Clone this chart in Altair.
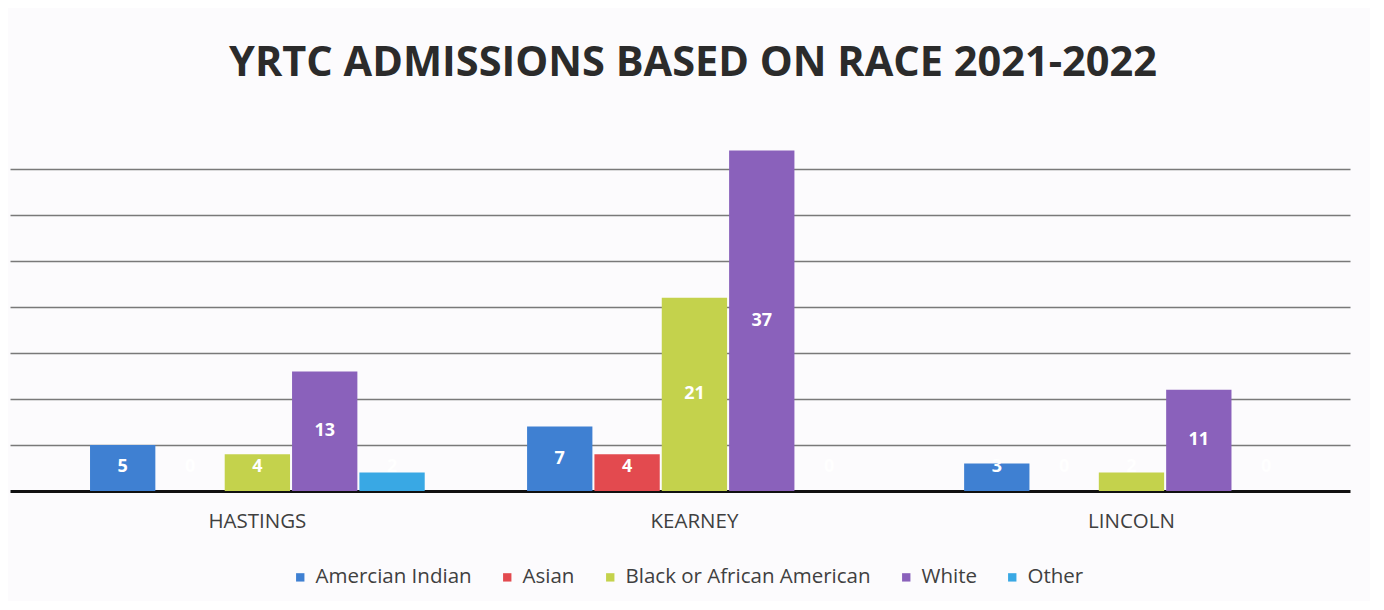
import altair as alt
import pandas as pd

sites = ["HASTINGS", "KEARNEY", "LINCOLN"]
races = ["Amercian Indian", "Asian", "Black or African American", "White", "Other"]
colors = ["#3f80d2", "#e34a4f", "#c4d24c", "#8a61bb", "#39a8e4"]

hastings = [5, 0, 4, 13, 2]
kearney = [7, 4, 21, 37, 0]
lincoln = [3, 0, 2, 11, 0]

rows = []
for site, vals in zip(sites, [hastings, kearney, lincoln]):
    for race, v in zip(races, vals):
        rows.append({"site": site, "race": race, "count": v})
df = pd.DataFrame(rows)

FONT = "Open Sans"

base = alt.Chart(df).encode(
    x=alt.X("site:N", sort=sites,
            scale=alt.Scale(paddingInner=0, paddingOuter=0.033, align=1),
            axis=alt.Axis(title=None, labelAngle=0, labelFontSize=20.5, labelFont=FONT,
                          labelColor="#404040", ticks=False, tickSize=0, labelPadding=20,
                          domainColor="#111111", domainWidth=3)),
    xOffset=alt.XOffset("race:N", sort=races,
                        scale=alt.Scale(paddingInner=0.03, paddingOuter=0.76)),
)

bars = base.mark_bar().encode(
    y=alt.Y("count:Q", scale=alt.Scale(domain=[0, 40], nice=False),
            axis=alt.Axis(title=None, labels=False, ticks=False, domain=False,
                          values=[5, 10, 15, 20, 25, 30, 35],
                          gridColor="#6a6a6a", gridWidth=1.5, gridOpacity=0.9)),
    color=alt.Color("race:N", sort=races,
                    scale=alt.Scale(domain=races, range=colors),
                    legend=alt.Legend(title=None, orient="none", direction="horizontal",
                                      legendX=280, legendY=444, symbolType="square",
                                      symbolSize=70, symbolStrokeWidth=0,
                                      labelFont=FONT, labelFontSize=20.5, labelLimit=0,
                                      labelColor="#404040", columnPadding=25,
                                      labelOffset=5)),
)

labels = base.transform_calculate(
    ly="max(datum.count / 2, 2.6)"
).mark_text(color="white", fontWeight="bold", font=FONT, fontSize=18,
            baseline="middle").encode(
    y=alt.Y("ly:Q", scale=alt.Scale(domain=[0, 40], nice=False)),
    text=alt.Text("count:Q"),
)

chart = alt.layer(bars, labels).properties(
    width=1340, height=368,
    title=alt.TitleParams("YRTC ADMISSIONS BASED ON RACE 2021-2022", font=FONT,
                          fontSize=41.5, fontWeight="bold", color="#2b2b2b",
                          anchor="middle", offset=6, dx=13, baseline="alphabetic"),
    background="#fcfbfd",
    padding={"left": 2, "top": 115, "right": 20, "bottom": 110},
    autosize=alt.AutoSizeParams(type="none"),
).configure_view(stroke=None)

chart.save("out.html", embed_options={"renderer": "svg", "actions": False})
